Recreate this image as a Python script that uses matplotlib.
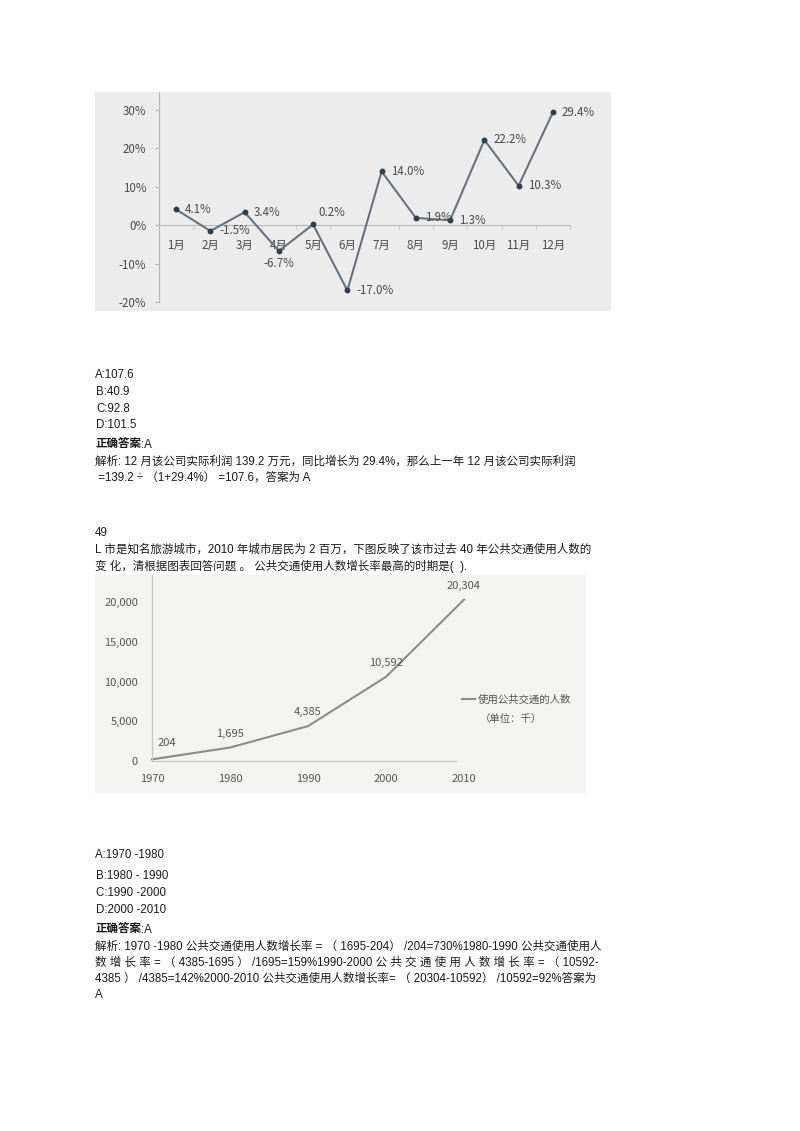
import matplotlib
matplotlib.use("Agg")
import matplotlib.pyplot as plt
import numpy as np

# ---- data ----
months = ["1月", "2月", "3月", "4月", "5月", "6月", "7月", "8月", "9月", "10月", "11月", "12月"]
growth = [4.1, -1.5, 3.4, -6.7, 0.2, -17.0, 14.0, 1.9, 1.3, 22.2, 10.3, 29.4]
growth_ticks = [-20, -10, 0, 10, 20, 30]

years = [1970, 1980, 1990, 2000, 2010]
riders = [204, 1695, 4385, 10592, 20304]
rider_ticks = [0, 5000, 10000, 15000, 20000]
legend_label = "使用公共交通的人数"
unit_label = "（单位：千）"

q48_lines = [
    "A:107.6",
    "B:40.9",
    "C:92.8",
    "D:101.5",
]
q48_expl = [
    "解析: 12 月该公司实际利润 139.2 万元，同比增长为 29.4%，那么上一年 12 月该公司实际利润",
    " =139.2 ÷ （1+29.4%） =107.6，答案为 A",
]
q49_head = [
    "49",
    "L 市是知名旅游城市，2010 年城市居民为 2 百万，下图反映了该市过去 40 年公共交通使用人数的",
    "变 化，清根据图表回答问题 。 公共交通使用人数增长率最高的时期是(  ).",
]
q49_lines = [
    "A:1970 -1980",
    "B:1980 - 1990",
    "C:1990 -2000",
    "D:2000 -2010",
]
q49_expl = [
    "解析: 1970 -1980 公共交通使用人数增长率 = （ 1695-204） /204=730%1980-1990 公共交通使用人",
    "数 增 长 率 = （ 4385-1695 ） /1695=159%1990-2000 公 共 交 通 使 用 人 数 增 长 率 = （ 10592-",
    "4385 ） /4385=142%2000-2010 公共交通使用人数增长率= （ 20304-10592） /10592=92%答案为",
    "A",
]

W, H = 800, 1131
PAGE_FONT = ["Liberation Sans", "Noto Sans CJK SC"]
CHART_FONT = ["Noto Sans CJK SC", "DejaVu Sans"]
plt.rcParams["font.family"] = PAGE_FONT

fig = plt.figure(figsize=(W / 100, H / 100), dpi=100)
fig.patch.set_facecolor("white")


def px_axes(x0, y0, x1, y1, **kw):
    return fig.add_axes([x0 / W, 1 - y1 / H, (x1 - x0) / W, (y1 - y0) / H], **kw)


def page_text(x, y, s, **kw):
    return fig.text(x / W, 1 - y / H, s, va="center", ha="left", fontsize=8.3,
                    color="#1a1a1a", family=PAGE_FONT, **kw)


# ---- chart 1: monthly growth ----
bg1 = px_axes(95, 92, 611, 311)
bg1.set_facecolor("#ececec")
bg1.set_xticks([]); bg1.set_yticks([])
for s in bg1.spines.values():
    s.set_visible(False)

ax1 = px_axes(159, 92, 570, 302)
ax1.patch.set_alpha(0)
x1 = np.arange(1, len(months) + 1)
ax1.plot(x1, growth, color="#66737f", lw=1.5, marker="o", ms=3.2,
         mfc="#2f3e4c", mec="#2f3e4c", zorder=3)
ax1.set_xlim(0.5, len(months) + 0.5)
ax1.set_ylim(-20, 34.7)
ax1.set_yticks(growth_ticks)
ax1.set_yticklabels([f"{v}%" for v in growth_ticks])
ax1.set_xticks(x1)
ax1.set_xticklabels(months)
ax1.set_xticks(np.arange(0.5, len(months) + 1, 1), minor=True)
ax1.spines["bottom"].set_position(("data", 0))
ax1.spines["top"].set_visible(False)
ax1.spines["right"].set_visible(False)
ax1.spines["bottom"].set_color("#b8b8b8")
ax1.spines["left"].set_color("#b8b8b8")
ax1.tick_params(axis="x", which="major", length=0, pad=10, labelsize=8.3, labelcolor="#4a4a4a")
ax1.tick_params(axis="x", which="minor", length=3, color="#c0c0c0", direction="out")
ax1.tick_params(axis="y", length=3, color="#b8b8b8", pad=6, labelsize=8.3, labelcolor="#4a4a4a")
for lab in ax1.get_xticklabels() + ax1.get_yticklabels():
    lab.set_family(CHART_FONT)

special = {3: ((0, -13), "center"), 4: ((5, 12), "left")}
for i, v in enumerate(growth):
    off, ha = special.get(i, ((9, 0), "left"))
    ax1.annotate(f"{v:.1f}%", (x1[i], v), xytext=off, textcoords="offset pixels",
                 ha=ha, va="center", fontsize=8.3, color="#4a4a4a", family=CHART_FONT)

# ---- question 48 text ----
ys = [375, 392, 409, 425]
for y, s in zip(ys, q48_lines):
    page_text(96 if s[0] != "A" else 95, y, s)
t = page_text(95, 445, "正确答案", fontweight="bold")
fig.canvas.draw()
bb = t.get_window_extent()
page_text(bb.x1, 445, ":A")
for y, s in zip([462, 478], q48_expl):
    page_text(95, y, s)
for y, s in zip([533, 550, 566], q49_head):
    page_text(95, y, s)

# ---- chart 2: public transport users ----
bg2 = px_axes(95, 575, 586, 793)
bg2.set_facecolor("#f3f3f1")
bg2.set_xticks([]); bg2.set_yticks([])
for s in bg2.spines.values():
    s.set_visible(False)

ax2 = px_axes(152, 575, 464, 761)
ax2.patch.set_alpha(0)
ax2.plot(years, riders, color="#8c8c8c", lw=1.5, label=legend_label, clip_on=False)
ax2.set_xlim(years[0], years[-1])
ax2.set_ylim(0, 23400)
ax2.set_xticks(years)
ax2.set_yticks(rider_ticks)
ax2.set_yticklabels([f"{v:,}" for v in rider_ticks])
ax2.spines["top"].set_visible(False)
ax2.spines["right"].set_visible(False)
ax2.spines["bottom"].set_color("#c4c4c4")
ax2.spines["left"].set_color("#c4c4c4")
ax2.spines["bottom"].set_bounds(years[0], 2009)
ax2.tick_params(length=0, labelsize=8, labelcolor="#555555")
ax2.tick_params(axis="x", pad=9)
ax2.tick_params(axis="y", pad=10)
for lab in ax2.get_xticklabels() + ax2.get_yticklabels():
    lab.set_family(CHART_FONT)

for i, (yr, v) in enumerate(zip(years, riders)):
    off = (15, 16) if i == 0 else (0, 14)
    ax2.annotate(f"{v:,}", (yr, v), xytext=off, textcoords="offset pixels",
                 ha="center", va="center", fontsize=8, color="#555555", family=CHART_FONT)

leg = ax2.legend(loc="center left", bbox_to_anchor=(0.994, 0.328), frameon=False,
                 borderpad=0, borderaxespad=0, handlelength=1.2, handletextpad=0.3,
                 prop={"family": CHART_FONT, "size": 7.5})
for txt in leg.get_texts():
    txt.set_color("#555555")
ax2.text(1.051, 0.226, unit_label, transform=ax2.transAxes, ha="left", va="center",
         fontsize=7.5, color="#555555", family=CHART_FONT)

# ---- question 49 text ----
ys = [855, 876, 893, 910]
for y, s in zip(ys, q49_lines):
    page_text(96 if s[0] != "A" else 95, y, s)
t = page_text(95, 930, "正确答案", fontweight="bold")
fig.canvas.draw()
bb = t.get_window_extent()
page_text(bb.x1, 930, ":A")
for y, s in zip([947, 963, 979, 995], q49_expl):
    page_text(95, y, s)

fig.savefig("out.png", dpi=100)
